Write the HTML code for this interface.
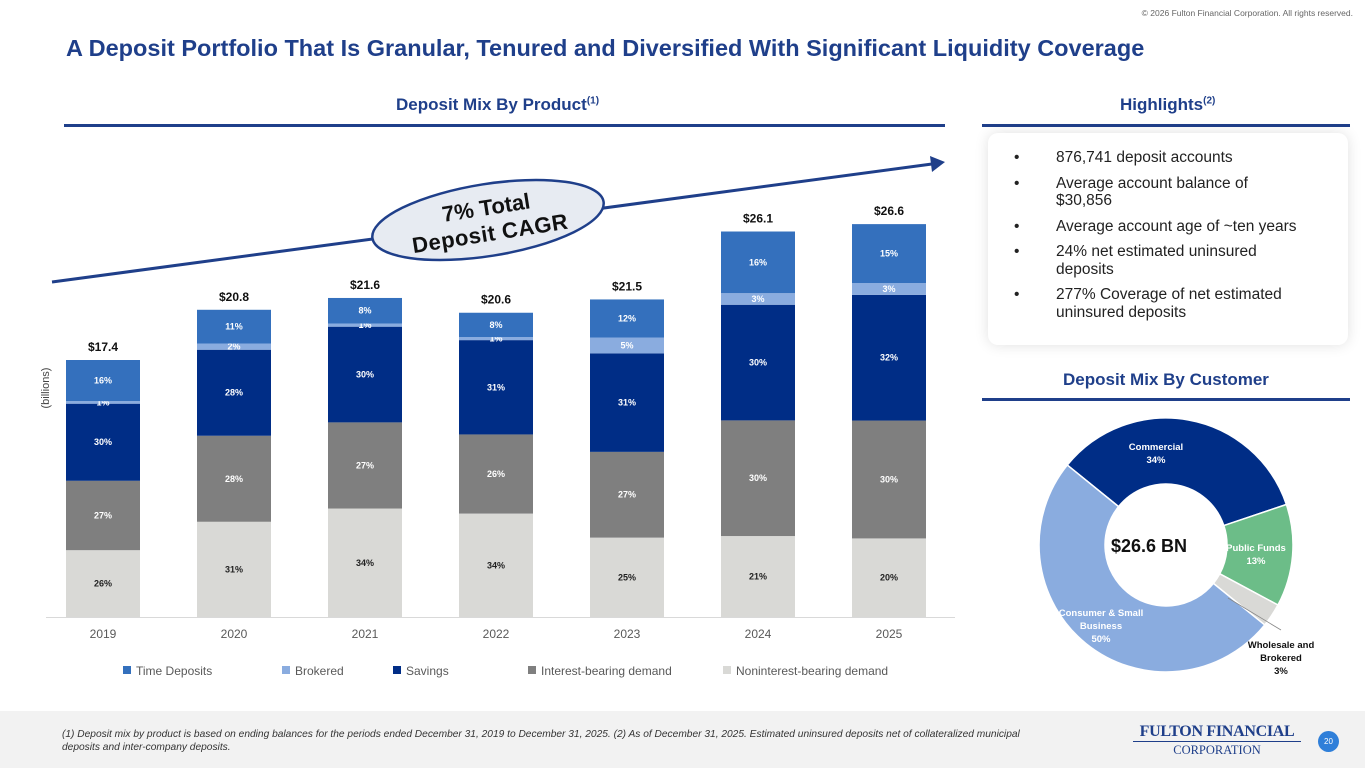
<!DOCTYPE html>
<html><head><meta charset="utf-8">
<style>
body{margin:0;width:1365px;height:768px;overflow:hidden;background:#fff;font-family:"Liberation Sans",sans-serif;position:relative}
.abs{position:absolute}
.hdr{color:#1f3f8a;font-weight:bold;font-size:17px}
.rule{position:absolute;height:3px;background:#1f3f8a}
ul{margin:0;padding:0;list-style:none}
li{position:relative;padding-left:68px;font-size:15.5px;color:#222;line-height:17.5px;margin-bottom:8px;white-space:nowrap}
li:before{content:"•";position:absolute;left:26px}
</style></head><body>
<div class="abs" style="right:12px;top:8px;font-size:8.5px;color:#666">© 2026 Fulton Financial Corporation. All rights reserved.</div>
<div class="abs" style="left:66px;top:35px;font-size:23.5px;font-weight:bold;color:#1f3f8a;white-space:nowrap">A Deposit Portfolio That Is Granular, Tenured and Diversified With Significant Liquidity Coverage</div>
<div class="abs hdr" style="left:396px;top:95px">Deposit Mix By Product<sup style="font-size:10px">(1)</sup></div>
<div class="rule" style="left:64px;top:124px;width:881px"></div>
<div class="abs hdr" style="left:1120px;top:95px">Highlights<sup style="font-size:10px">(2)</sup></div>
<div class="rule" style="left:982px;top:124px;width:368px"></div>
<div class="abs" style="left:988px;top:133px;width:360px;height:212px;background:#fff;border-radius:10px;box-shadow:0 0 14px rgba(0,0,0,0.12)">
<ul style="padding-top:16px">
<li>876,741 deposit accounts</li>
<li>Average account balance of<br>$30,856</li>
<li>Average account age of ~ten years</li>
<li>24% net estimated uninsured<br>deposits</li>
<li>277% Coverage of net estimated<br>uninsured deposits</li>
</ul></div>
<div class="abs hdr" style="left:1063px;top:370px">Deposit Mix By Customer</div>
<div class="rule" style="left:982px;top:398px;width:368px"></div>

<svg id="bars" class="abs" style="left:0;top:0" width="980" height="700"></svg>
<svg id="donut" class="abs" style="left:980px;top:0" width="385" height="700"></svg>

<div class="abs" style="left:0;top:711px;width:1365px;height:57px;background:#f2f2f2"></div>
<div class="abs" style="left:62px;top:728px;width:1000px;font-size:10.2px;font-style:italic;color:#333;line-height:13px;white-space:nowrap">(1) Deposit mix by product is based on ending balances for the periods ended December 31, 2019 to December 31, 2025. (2) As of December 31, 2025. Estimated uninsured deposits net of collateralized municipal<br>deposits and inter-company deposits.</div>
<div class="abs" style="left:1133px;top:722px;width:168px;text-align:center;font-family:'Liberation Serif',serif;color:#1f3f8a;white-space:nowrap">
<div style="font-size:16px;font-weight:bold;letter-spacing:-0.3px;border-bottom:1.5px solid #1f3f8a;line-height:19px">FULTON FINANCIAL</div>
<div style="font-size:12.5px;line-height:16px">CORPORATION</div></div>
<div class="abs" style="left:1318px;top:731px;width:21px;height:21px;border-radius:50%;background:#2f7fd9;color:#fff;font-size:8px;text-align:center;line-height:21px">20</div>

<script>
const years=["2019","2020","2021","2022","2023","2024","2025"];
const totals=[17.4,20.8,21.6,20.6,21.5,26.1,26.6];
const totalLabels=["$17.4","$20.8","$21.6","$20.6","$21.5","$26.1","$26.6"];
const nonint=[26,31,34,34,25,21,20];
const interest=[27,28,27,26,27,30,30];
const savings=[30,28,30,31,31,30,32];
const brokered=[1,2,1,1,5,3,3];
const timeDep=[16,11,8,8,12,16,15];
const seriesNames=["Time Deposits","Brokered","Savings","Interest-bearing demand","Noninterest-bearing demand"];
const custNames=["Commercial","Public Funds","Wholesale and Brokered","Consumer & Small Business"];
const custVals=[34,13,3,50];

const NS="http://www.w3.org/2000/svg";
function mk(p,t,a){const e=document.createElementNS(NS,t);for(const k in a)e.setAttribute(k,a[k]);p.appendChild(e);return e;}
const svg=document.getElementById('bars');
const base=617,pxPer=14.77,x0=103,step=131,bw=74;
const xC=i=>x0+i*step, yS=v=>v*pxPer;
const series=[nonint,interest,savings,brokered,timeDep];
const cols=["#d9d9d6","#7f7f7f","#002d86","#8aacdf","#3470bd"];
const tcol=["#222","#fff","#fff","#fff","#fff"];
const segNames=["noninterest","interest","savings","brokered","time"];
let ax=mk(svg,'line',{x1:46,x2:955,y1:base+0.5,y2:base+0.5,stroke:'#d9d9d9'});


years.forEach((yr,i)=>{
  let sum=series.reduce((a,s)=>a+s[i],0), y=base;
  series.forEach((s,k)=>{
    const h=yS(totals[i]*s[i]/sum);
    const r=mk(svg,'rect',{x:xC(i)-bw/2,y:y-h,width:bw,height:h,fill:cols[k]});
    
    
    const t=mk(svg,'text',{x:xC(i),y:y-h/2+3,'text-anchor':'middle','font-size':9,'font-weight':'bold',fill:tcol[k]});
    t.textContent=s[i]+'%';
    
    
    y-=h;
  });
  const tl=mk(svg,'text',{x:xC(i),y:y-9,'text-anchor':'middle','font-size':12,'font-weight':'bold',fill:'#111'});
  tl.textContent=totalLabels[i];
  
  
  const xl=mk(svg,'text',{x:xC(i),y:638,'text-anchor':'middle','font-size':12,fill:'#595959'});
  xl.textContent=yr;
  
  
});
const yt=mk(svg,'text',{x:0,y:0,transform:'translate(49,388) rotate(-90)','text-anchor':'middle','font-size':11,fill:'#444'});
yt.textContent='(billions)';


const legX=[123,282,393,528,723], legCols=[cols[4],cols[3],cols[2],cols[1],cols[0]];
seriesNames.forEach((n,k)=>{
  const g=mk(svg,'g',{});
  
  
  mk(g,'rect',{x:legX[k],y:666,width:8,height:8,fill:legCols[k]});
  const t=mk(g,'text',{x:legX[k]+13,y:675,'font-size':12,fill:'#595959'});t.textContent=n;
});
const ar=mk(svg,'line',{x1:52,y1:282,x2:932,y2:164,stroke:'#1f3f8a','stroke-width':3});


mk(svg,'polygon',{points:'945,162 930,156 932,172',fill:'#1f3f8a'});
const eg=mk(svg,'g',{transform:'translate(488,220) rotate(-9)'});


mk(eg,'ellipse',{cx:0,cy:0,rx:117,ry:36,fill:'#e7ebf2',stroke:'#1f3f8a','stroke-width':2.5});
let t1=mk(eg,'text',{x:0,y:-5,'text-anchor':'middle','font-size':22,'font-weight':'bold',fill:'#111'});t1.textContent='7% Total';
let t2=mk(eg,'text',{x:0,y:21,'text-anchor':'middle','font-size':22,'font-weight':'bold',fill:'#111','letter-spacing':'0.5'});t2.textContent='Deposit CAGR';

const d=document.getElementById('donut');
const cx=186,cy=545,R=127,r0=61;
const dcols=["#002d86","#6cbd88","#d9d9d6","#8aacdf"];
let a=-51/360;
const pt=(t,rr)=>[cx+rr*Math.sin(t*2*Math.PI),cy-rr*Math.cos(t*2*Math.PI)];
const tot=custVals.reduce((x,y)=>x+y,0);
custVals.forEach((v,i)=>{
  const b=a+v/tot, L=(b-a)>0.5?1:0;
  const [x1,y1]=pt(a,R),[x2,y2]=pt(b,R),[x3,y3]=pt(b,r0),[x4,y4]=pt(a,r0);
  const p=mk(d,'path',{d:`M${x1},${y1}A${R},${R} 0 ${L} 1 ${x2},${y2}L${x3},${y3}A${r0},${r0} 0 ${L} 0 ${x4},${y4}Z`,fill:dcols[i],stroke:'#fff','stroke-width':1.5});
  
  
  a=b;
});
function lab(lines,x,y,col,name){const g=mk(d,'g',{});
 lines.forEach((l,j)=>{const t=mk(g,'text',{x:x,y:y+j*13,'text-anchor':'middle','font-size':9.5,'font-weight':'bold',fill:col});t.textContent=l;});}
lab([custNames[0],custVals[0]+'%'],176,450,'#fff','label-commercial');
lab([custNames[1],custVals[1]+'%'],276,551,'#fff','label-public-funds');
lab(["Consumer & Small","Business",custVals[3]+'%'],121,616,'#fff','label-consumer');
lab(["Wholesale and","Brokered",custVals[2]+'%'],301,648,'#111','label-wholesale');
mk(d,'line',{x1:248,y1:598,x2:301,y2:630,stroke:'#888','stroke-width':0.8});
const ct=mk(d,'text',{x:169,y:552,'text-anchor':'middle','font-size':18,'font-weight':'bold',fill:'#111'});ct.textContent='$26.6 BN';


</script>
</body></html>
